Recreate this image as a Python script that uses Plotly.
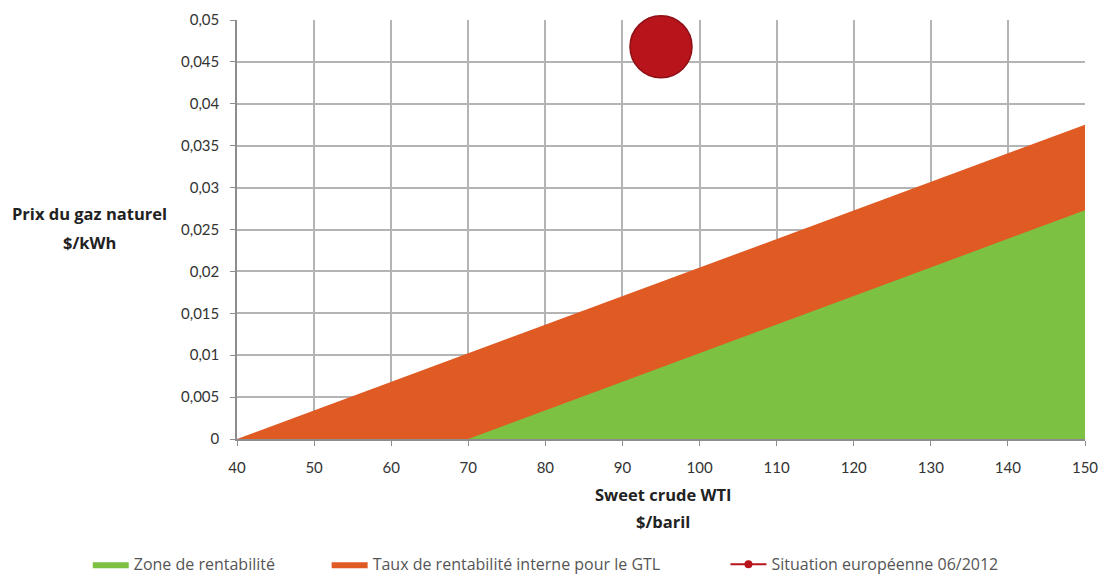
import plotly.graph_objects as go

# Data
wti_orange = [40, 150]
gas_orange = [0, 0.0375]
wti_green = [70, 150]
gas_green = [0, 0.0273]
wti_point = [95]
gas_point = [0.0468]

x_ticks = [40, 50, 60, 70, 80, 90, 100, 110, 120, 130, 140, 150]
y_ticks = [0, 0.005, 0.01, 0.015, 0.02, 0.025, 0.03, 0.035, 0.04, 0.045, 0.05]
y_labels = ["0", "0,005", "0,01", "0,015", "0,02", "0,025", "0,03", "0,035", "0,04", "0,045", "0,05"]

GREEN = "#7CC142"
ORANGE = "#E05A24"
RED = "#B8141C"
FONT = "Lato"
TFONT = "Open Sans"

fig = go.Figure()
fig.add_trace(go.Scatter(x=wti_orange, y=gas_orange, mode="lines", fill="tozeroy",
                         line=dict(width=0, color=ORANGE), fillcolor=ORANGE,
                         name="Taux de rentabilité interne pour le GTL", hoverinfo="skip",
                         legend="legend2"))
fig.add_trace(go.Scatter(x=wti_green, y=gas_green, mode="lines", fill="tozeroy",
                         line=dict(width=0, color=GREEN), fillcolor=GREEN,
                         name="Zone de rentabilité", hoverinfo="skip", legend="legend"))
fig.add_trace(go.Scatter(x=wti_point, y=gas_point, mode="markers", cliponaxis=False,
                         marker=dict(size=62, color=RED, line=dict(width=1.5, color="#8E0F15")),
                         showlegend=False, name="Situation européenne 06/2012"))
fig.add_trace(go.Scatter(x=[None], y=[None], mode="lines+markers",
                         marker=dict(size=8, color=RED), line=dict(color=RED, width=2),
                         name="Situation européenne 06/2012", legend="legend3"))

leg_common = dict(orientation="h", yanchor="middle", y=(438 - 563) / 418, xanchor="left",
                  font=dict(family=TFONT, size=16, color="#555555"),
                  bgcolor="rgba(0,0,0,0)", itemwidth=36)

fig.update_layout(
    width=1113, height=576,
    margin=dict(l=237, r=28, t=20, b=137, autoexpand=False),
    paper_bgcolor="white", plot_bgcolor="white",
    font=dict(family=FONT, size=14, color="#333333"),
    showlegend=True,
    legend=dict(leg_common, x=-0.176),
    legend2=dict(leg_common, x=0.1057),
    legend3=dict(leg_common, x=0.576),
    xaxis=dict(range=[40, 150], tickvals=x_ticks, ticktext=[str(v) for v in x_ticks],
               showgrid=True, gridcolor="#B4B4B4", gridwidth=1.5,
               showline=True, linecolor="#8C8C8C", linewidth=1.5,
               ticks="outside", ticklen=5, tickcolor="#8C8C8C", ticklabelstandoff=9,
               zeroline=False, mirror=False, fixedrange=True,
               tickfont=dict(family=FONT, size=15, color="#333333")),
    yaxis=dict(range=[0, 0.05], tickvals=y_ticks, ticktext=y_labels,
               showgrid=True, gridcolor="#B4B4B4", gridwidth=1.5,
               showline=True, linecolor="#8C8C8C", linewidth=1.5,
               ticks="outside", ticklen=5, tickcolor="#8C8C8C", ticklabelstandoff=8,
               zeroline=False, fixedrange=True,
               tickfont=dict(family=FONT, size=15, color="#333333")),
)

title_font = dict(family=TFONT, size=16.5, color="#222222")
# y-axis title (two lines), centred at px x≈89, y≈213 / 242
for txt, yp in [("<b>Prix du gaz naturel</b>", (438 - 213) / 418), ("<b>$/kWh</b>", (438 - 242) / 418)]:
    fig.add_annotation(text=txt, xref="paper", yref="paper", x=(89 - 237) / 848, y=yp,
                       xanchor="center", yanchor="middle", showarrow=False, font=title_font)
# x-axis title (two lines), centred at px x≈662, y≈493 / 520
for txt, yp in [("<b>Sweet crude WTI</b>", (438 - 493) / 418), ("<b>$/baril</b>", (438 - 520) / 418)]:
    fig.add_annotation(text=txt, xref="x", yref="paper", x=95.2, y=yp,
                       xanchor="center", yanchor="middle", showarrow=False, font=title_font)

fig.write_html("out.html", config={"displayModeBar": False})
with open("out.html", encoding="utf-8") as f:
    html = f.read()
html = html.replace("<head>", "<head><style>html,body{margin:0;padding:0;}</style>", 1)
with open("out.html", "w", encoding="utf-8") as f:
    f.write(html)
